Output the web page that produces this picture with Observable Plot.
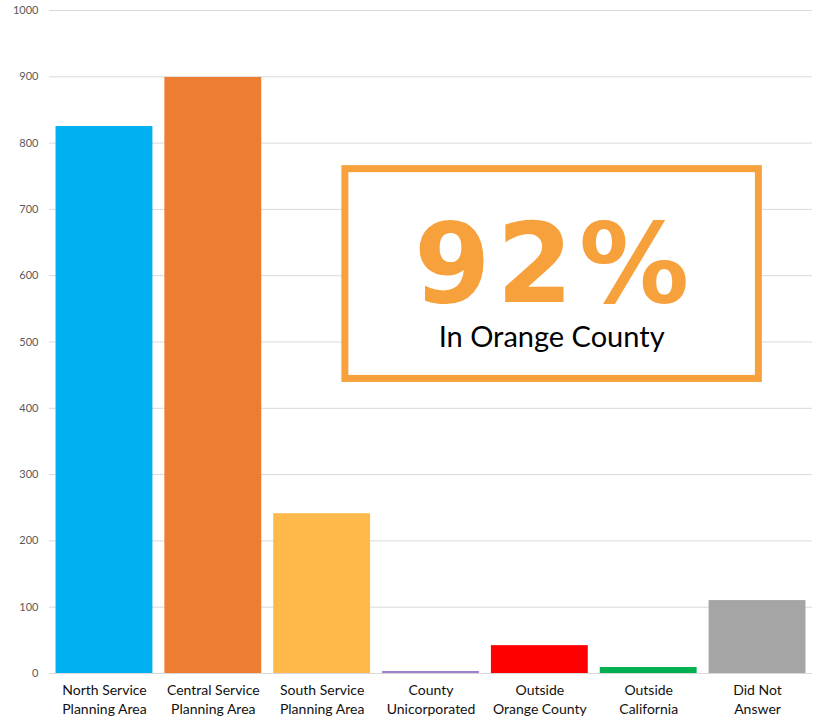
<!DOCTYPE html>
<html><head><meta charset="utf-8">
<script src="https://cdn.jsdelivr.net/npm/d3@7"></script>
<script src="https://cdn.jsdelivr.net/npm/@observablehq/plot@0.6"></script>
<style>
html,body{margin:0;padding:0;background:#fff;}
#chart{width:817px;height:719px;}
</style></head>
<body><div id="chart"></div>
<script>
const categories = ["North Service\nPlanning Area","Central Service\nPlanning Area","South Service\nPlanning Area","County\nUnicorporated","Outside\nOrange County","Outside\nCalifornia","Did Not\nAnswer"];
const values = [825, 899, 241, 3, 42, 9, 110];
const colors = ["#00B0F0","#ED7D31","#FFB84A","#A17FC9","#FF0000","#00B050","#A5A5A5"];
const yTicks = [0,100,200,300,400,500,600,700,800,900,1000];
const bigStat = "92%";
const bigStatLabel = "In Orange County";

const data = categories.map((c,i)=>({cat:c, value:values[i], color:colors[i]}));

const plot = Plot.plot({
  width: 817, height: 719,
  marginTop: 10, marginBottom: 46, marginLeft: 49, marginRight: 5,
  style: {fontFamily: "Lato, sans-serif", background: "#fff"},
  x: {domain: categories, paddingInner: 0.11, paddingOuter: 0.06, round: false, label: null, tickSize: 0},
  y: {domain: [0,1000], ticks: yTicks, label: null, tickSize: 0},
  marks: [
    Plot.gridY(yTicks, {stroke: "#d9d9d9", strokeOpacity: 1, strokeWidth: 1}),
    Plot.barY(data, {x: "cat", y: "value", fill: "color"}),
    Plot.axisY(yTicks, {tickSize: 0, tickPadding: 11, fontSize: 11, fill: "#595959", tickFormat: d=>String(d)}),
    Plot.axisX({tickSize: 0, tickPadding: 8, fontSize: 14, fill: "#111", lineHeight: 1.35}),
  ]
});
document.getElementById("chart").appendChild(plot);

// annotation box positioned with the chart scales
const ys = plot.scale("y"), xs = plot.scale("x");
const yTop = ys.apply(766), yBot = ys.apply(439);
const xLeft = xs.apply(categories[3]) - xs.bandwidth*0.42;
const xRight = xs.apply(categories[6]) + xs.bandwidth*0.55;
const ns = "http://www.w3.org/2000/svg";
const g = document.createElementNS(ns, "g");
const r = document.createElementNS(ns, "rect");
r.setAttribute("x", xLeft + 3.5); r.setAttribute("y", yTop + 3.5);
r.setAttribute("width", xRight - xLeft - 7); r.setAttribute("height", yBot - yTop - 7);
r.setAttribute("fill", "#fff"); r.setAttribute("stroke", "#F7A13D"); r.setAttribute("stroke-width", 7);
g.appendChild(r);
const cx = (xLeft + xRight)/2;
const t1 = document.createElementNS(ns, "text");
t1.setAttribute("x", cx + 3); t1.setAttribute("y", ys.apply(560));
t1.setAttribute("text-anchor","middle"); t1.setAttribute("fill","#F7A13D");
t1.setAttribute("font-family","'DejaVu Sans', sans-serif"); t1.setAttribute("font-weight","bold");
t1.setAttribute("font-size","110"); t1.setAttribute("letter-spacing","6");
t1.textContent = bigStat;
g.appendChild(t1);
const t2 = document.createElementNS(ns, "text");
t2.setAttribute("x", cx); t2.setAttribute("y", ys.apply(492));
t2.setAttribute("text-anchor","middle"); t2.setAttribute("fill","#000");
t2.setAttribute("font-family","Lato, sans-serif");
t2.setAttribute("font-size","29"); t2.textContent = bigStatLabel;
g.appendChild(t2);
plot.appendChild(g);
</script></body></html>
